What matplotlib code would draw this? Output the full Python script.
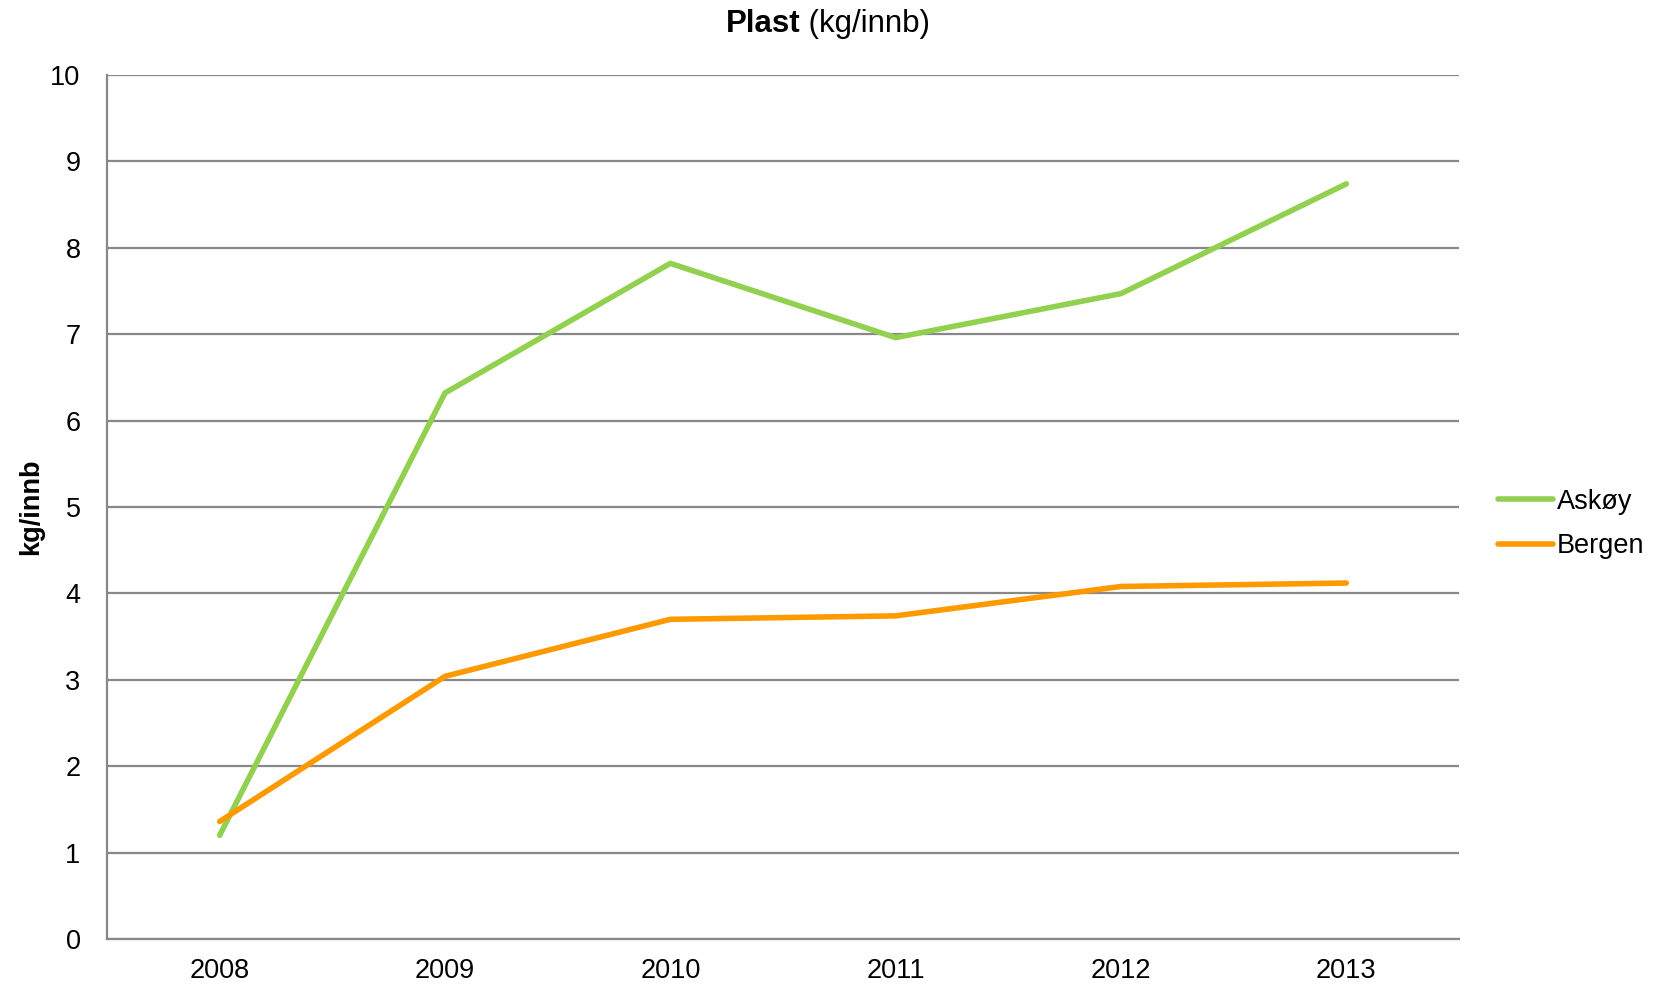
import matplotlib
matplotlib.use("Agg")
import matplotlib.pyplot as plt

years = ["2008", "2009", "2010", "2011", "2012", "2013"]
askoy = [1.20, 6.32, 7.82, 6.96, 7.47, 8.74]
bergen = [1.36, 3.04, 3.70, 3.74, 4.08, 4.12]
yticks = list(range(0, 11))

plt.rcParams['font.family'] = ['Liberation Sans', 'DejaVu Sans']

fig = plt.figure(figsize=(16.73, 9.85), dpi=100)
ax = fig.add_axes([107/1673, 46/985, (1459-107)/1673, (939-75)/985])

x = list(range(len(years)))
ax.plot(x, askoy, color='#92D050', lw=4.0, label='Askøy', solid_capstyle='round', zorder=3)
ax.plot(x, bergen, color='#FF9900', lw=4.0, label='Bergen', solid_capstyle='round', zorder=3)

ax.set_xlim(-0.5, 5.5)
ax.set_ylim(0, 10)
ax.set_xticks(x)
ax.set_xticklabels(years)
ax.set_yticks(yticks)
ax.tick_params(axis='both', length=0, labelsize=19.5, colors='black')
ax.tick_params(axis='y', pad=19)
ax.tick_params(axis='x', pad=14)
ax.yaxis.grid(True, color='#888888', lw=1.6)
ax.set_axisbelow(True)
for s in ['top', 'right']:
    ax.spines[s].set_visible(False)
for s in ['left', 'bottom']:
    ax.spines[s].set_color('#888888')
    ax.spines[s].set_linewidth(1.6)

ax.set_ylabel('kg/innb', fontsize=19.5, fontweight='bold')
ax.yaxis.set_label_coords(31/1673 - 107/1673, 0.5, transform=fig.transFigure) if False else None
ax.yaxis.label.set_va('center')
ax.yaxis.set_label_coords((31 - 107) / (1459 - 107), (939 - 507) / (939 - 75))

ty = 1 - 24/985
tx = 800/1673
fig.text(tx, ty, 'Plast', ha='right', va='center', fontsize=22.5, fontweight='bold')
fig.text(tx, ty, ' (kg/innb)', ha='left', va='center', fontsize=22.5)

leg = fig.legend(loc='center left', bbox_to_anchor=(1474/1673, 1 - 524/985), frameon=False,
                 fontsize=19.5, handlelength=2.0, handletextpad=0.15, labelspacing=0.68)

fig.savefig('out.png', dpi=100)
